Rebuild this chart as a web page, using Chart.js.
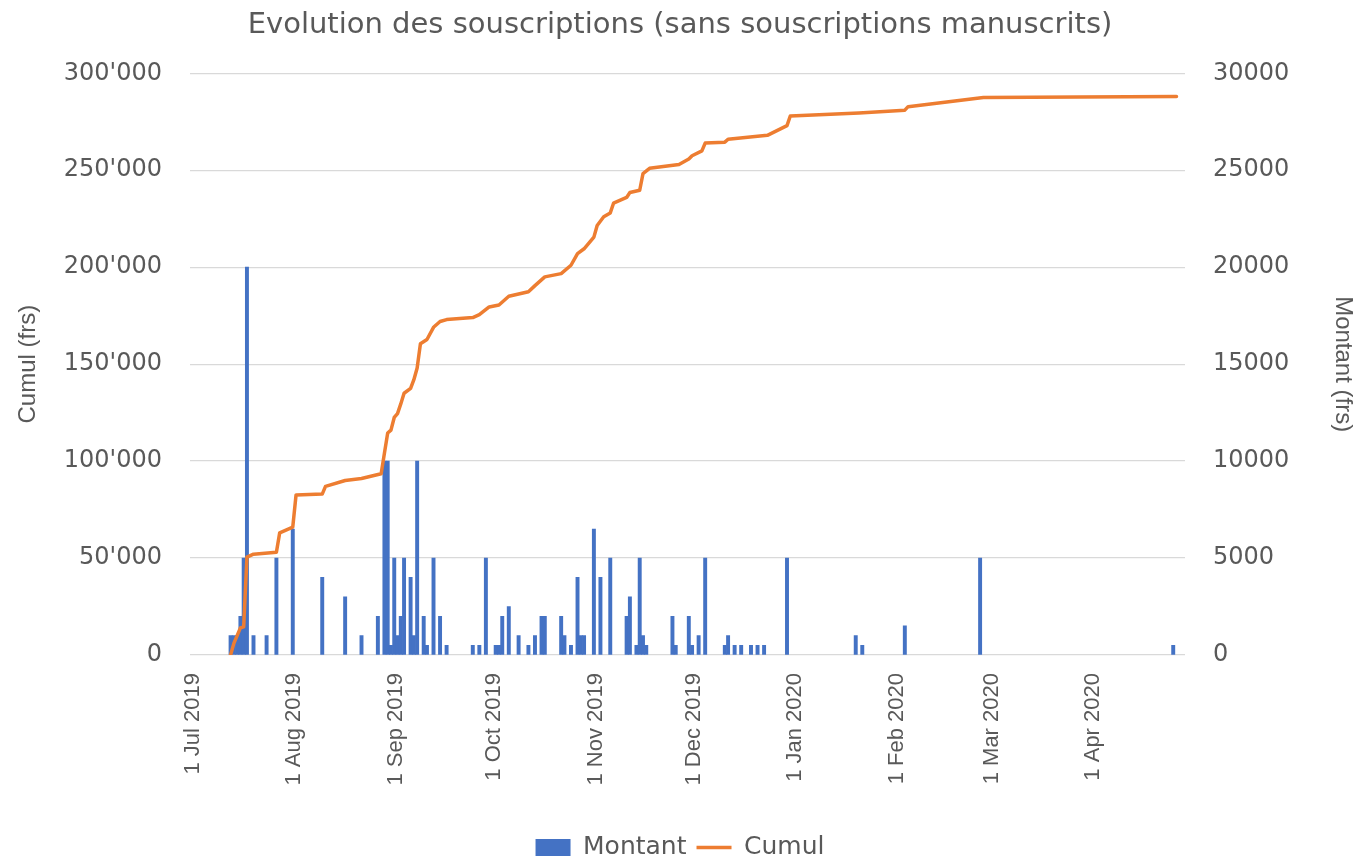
<!DOCTYPE html>
<html>
<head>
<meta charset="utf-8">
<title>Evolution des souscriptions</title>
<script src="https://cdn.jsdelivr.net/npm/chart.js@4.4.1/dist/chart.umd.min.js"></script>
<style>
  html, body { margin: 0; background: #fff; }
  #wrap { width: 1360px; height: 862px; }
</style>
</head>
<body>
<div id="wrap"><canvas id="graphique" width="1360" height="862"></canvas></div>
<script>
// Jours comptés depuis le 1er juillet 2019 (0 = 1 Jul 2019)
const moisJours = [0, 31, 62, 92, 123, 153, 184, 215, 244, 275];
const moisLabels = ["1 Jul 2019", "1 Aug 2019", "1 Sep 2019", "1 Oct 2019", "1 Nov 2019",
  "1 Dec 2019", "1 Jan 2020", "1 Feb 2020", "1 Mar 2020", "1 Apr 2020"];

// Montant (frs) par jour de souscription
const montantJours = [11, 12, 13, 14, 15, 16, 18, 22, 25, 30, 39, 46, 51, 56,
  58, 59, 60, 61, 62, 63, 64, 66, 67, 68, 70, 71, 73, 75, 77, 85, 87, 89,
  92, 93, 94, 96, 99, 102, 104, 106, 107, 112, 113, 115, 117, 118, 119,
  122, 124, 127, 132, 133, 135, 136, 137, 138, 146, 147, 151, 152, 154, 156,
  162, 163, 165, 167, 170, 172, 174, 181, 202, 204, 217, 240, 299];
const montantValeurs = [1000, 1000, 1000, 2000, 5000, 20000, 1000, 1000, 5000, 6500, 4000, 3000, 1000, 2000,
  10000, 10000, 500, 5000, 1000, 2000, 5000, 4000, 1000, 10000, 2000, 500, 5000, 2000, 500, 500, 500, 5000,
  500, 500, 2000, 2500, 1000, 500, 1000, 2000, 2000, 2000, 1000, 500, 4000, 1000, 1000,
  6500, 4000, 5000, 2000, 3000, 500, 5000, 1000, 500, 2000, 500, 2000, 500, 1000, 5000,
  500, 1000, 500, 500, 500, 500, 500, 5000, 1000, 500, 1500, 5000, 500];

// Cumul (frs)
const cumulJours = [11, 12, 13, 14, 15, 16, 18, 25, 26, 30, 31, 39, 40, 46, 51,
  57, 58, 59, 60, 61, 62, 63, 64, 66, 67, 68, 69, 71, 73, 75, 77, 85, 87, 90, 93, 96,
  102, 104, 107, 112, 115, 117, 119, 122, 123, 125, 127, 128, 132, 133, 136, 137, 139,
  148, 151, 152, 155, 156, 162, 163, 175, 181, 182, 203, 217, 218, 241, 300];
const cumulValeurs = [0, 6000, 10000, 14000, 14500, 50500, 52000, 53000, 63000, 66000, 82500, 83000, 87000, 90000, 91000,
  93500, 104000, 114500, 116000, 122500, 124500, 129500, 135000, 137500, 142000, 148000, 160500, 162700, 169000, 172000, 173000, 174000, 175500, 179500, 180500, 185000,
  187300, 190500, 195000, 196700, 201000, 207000, 209500, 215500, 221500, 226000, 228000, 233000, 236000, 238500, 239700, 248300, 251000,
  253000, 255800, 257500, 260000, 264000, 264500, 266000, 268000, 273000, 278000, 279500, 281000, 282800, 287500, 288000];

const gris = "#595959";
const fontLarge = '"DejaVu Sans", "Open Sans", sans-serif';
const fontEtroit = '"Liberation Sans Narrow", "Liberation Sans", sans-serif';

function milliers(v) {
  return String(v).replace(/\B(?=(\d{3})+(?!\d))/g, "'");
}

new Chart(document.getElementById("graphique"), {
  type: "bar",
  data: {
    datasets: [
      {
        label: "Montant",
        data: montantJours.map((j, i) => ({ x: j, y: montantValeurs[i] })),
        backgroundColor: "#4472C4",
        borderWidth: 0,
        barPercentage: 1,
        categoryPercentage: 1,
        yAxisID: "y1",
        order: 2,
      },
      {
        type: "line",
        label: "Cumul",
        data: cumulJours.map((j, i) => ({ x: j, y: cumulValeurs[i] })),
        borderColor: "#ED7D31",
        backgroundColor: "#ED7D31",
        borderWidth: 3.5,
        borderJoinStyle: "round",
        borderCapStyle: "round",
        pointRadius: 0,
        tension: 0,
        yAxisID: "y",
        order: 1,
      },
    ],
  },
  options: {
    responsive: false,
    animation: false,
    devicePixelRatio: 1,
    layout: { padding: { left: 0, right: 0, top: 0, bottom: -8 } },
    plugins: {
      title: {
        display: true,
        text: "Evolution des souscriptions (sans souscriptions manuscrits)",
        color: gris,
        font: { family: fontLarge, size: 29, weight: "normal" },
        padding: { top: 8, bottom: 30.5 },
      },
      legend: {
        position: "bottom",
        labels: {
          color: gris,
          font: { family: fontLarge, size: 25 },
          usePointStyle: true,
          pointStyleWidth: 35,
          boxHeight: 17,
          padding: 10,
          sort: (a, b) => a.datasetIndex - b.datasetIndex,
          generateLabels(chart) {
            const items = Chart.defaults.plugins.legend.labels.generateLabels(chart);
            items.forEach((it) => {
              if (it.text === "Cumul") {
                it.pointStyle = "line";
                it.strokeStyle = "#ED7D31";
                it.lineWidth = 3.5;
              } else {
                it.pointStyle = "rect";
                it.lineWidth = 0;
              }
            });
            return items;
          },
        },
      },
      tooltip: { enabled: false },
    },
    scales: {
      x: {
        type: "linear",
        offset: false,
        min: -1.4,
        max: 302.6,
        grid: { display: false },
        border: { display: false },
        afterBuildTicks(scale) {
          // les étiquettes sont centrées au début de chaque mois
          scale.ticks = moisJours.map((j) => ({ value: j - 0.5 }));
        },
        afterFit(scale) { scale.height = 170; },
        ticks: {
          autoSkip: false,
          minRotation: 90,
          maxRotation: 90,
          padding: 10,
          color: gris,
          font: { family: fontEtroit, size: 22 },
          callback: (v, i) => moisLabels[i],
        },
      },
      y: {
        position: "left",
        min: 0,
        max: 300000,
        border: { display: false },
        grid: { color: "#d9d9d9", lineWidth: 1.3, drawTicks: false },
        afterFit(scale) { scale.width = 190; },
        ticks: {
          stepSize: 50000,
          padding: 28,
          color: gris,
          font: { family: fontLarge, size: 24 },
          callback: (v) => milliers(v),
        },
        title: {
          display: true,
          text: "Cumul (frs)",
          color: gris,
          font: { family: fontEtroit, size: 24 },
          padding: { top: 14 },
        },
      },
      y1: {
        position: "right",
        min: 0,
        max: 30000,
        border: { display: false },
        grid: { drawOnChartArea: false, drawTicks: false },
        afterFit(scale) { scale.width = 175; },
        ticks: {
          stepSize: 5000,
          padding: 28,
          color: gris,
          font: { family: fontLarge, size: 24 },
          callback: (v) => String(v),
        },
        title: {
          display: true,
          text: "Montant (frs)",
          color: gris,
          font: { family: fontEtroit, size: 24 },
          padding: { top: 3 },
        },
      },
    },
  },
});
</script>
</body>
</html>
